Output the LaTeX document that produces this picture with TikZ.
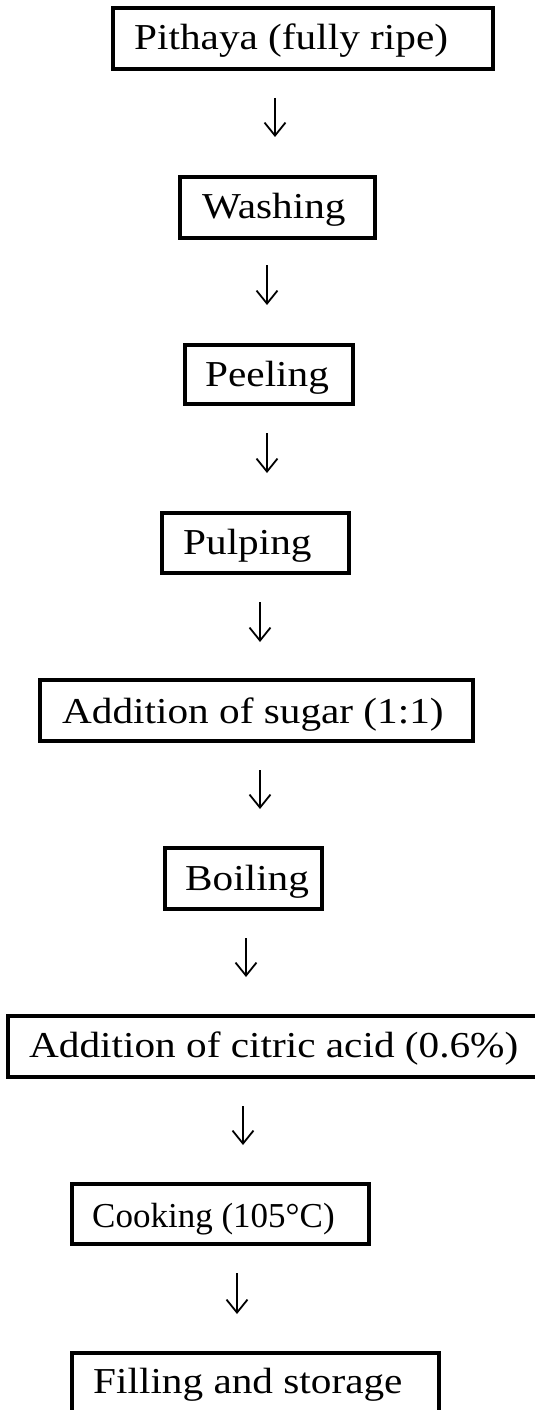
\documentclass[tikz,border=0pt]{standalone}
\usepackage{fontspec}
\usepackage{graphicx}
\setmainfont{Liberation Serif}
\usetikzlibrary{arrows.meta}
\tikzset{
  stepbox/.style={draw=black, line width=3.5pt, inner sep=0pt, fill=white},
  steptext/.style={anchor=base west, inner sep=0pt, font=\fontsize{36.5}{42}\selectfont},
  flowarrow/.style={line width=1.8pt, -{Straight Barb[length=13pt,width=21pt,line width=1.8pt]}}
}
\newcommand{\wide}[1]{\scalebox{1.13}[1]{#1}}
\begin{document}
\begin{tikzpicture}[x=1pt,y=-1pt]
\useasboundingbox (0,0) rectangle (535,1410);
\clip (0,0) rectangle (535,1410);
% boxes
\node[stepbox, minimum width=380pt, minimum height=61pt] (b1) at (303,38.5) {};
\node[stepbox, minimum width=195pt, minimum height=61pt] (b2) at (277.5,207.5) {};
\node[stepbox, minimum width=168pt, minimum height=59pt] (b3) at (269,374.5) {};
\node[stepbox, minimum width=187pt, minimum height=60pt] (b4) at (255.5,543) {};
\node[stepbox, minimum width=433pt, minimum height=61pt] (b5) at (256.5,710.5) {};
\node[stepbox, minimum width=157pt, minimum height=61pt] (b6) at (243.5,878.5) {};
\node[stepbox, minimum width=534pt, minimum height=61pt] (b7) at (275,1046.5) {};
\node[stepbox, minimum width=297pt, minimum height=60pt] (b8) at (220.5,1214) {};
\node[stepbox, minimum width=367pt, minimum height=61pt] (b9) at (255.5,1383.5) {};
% texts
\node[steptext] (t1) at (134,50) {\wide{Pithaya (fully ripe)}};
\node[steptext] (t2) at (202,218) {\wide{Washing}};
\node[steptext] (t3) at (205,386) {\wide{Peeling}};
\node[steptext] (t4) at (183,554) {\wide{Pulping}};
\node[steptext] (t5) at (62,723) {\wide{Addition of sugar (1:1)}};
\node[steptext] (t6) at (185,890) {\wide{Boiling}};
\node[steptext] (t7) at (29,1057) {\wide{Addition of citric acid (0.6\%)}};
\node[steptext, font=\fontsize{35}{40}\selectfont] (t8) at (92,1227) {Cooking (105°C)};
\node[steptext] (t9) at (93,1393) {\wide{Filling and storage}};
% arrow ends
\coordinate (a1s) at (275,98);  \coordinate (a1e) at (275,137);
\coordinate (a2s) at (267,265); \coordinate (a2e) at (267,305);
\coordinate (a3s) at (267,433); \coordinate (a3e) at (267,473);
\coordinate (a4s) at (260,602); \coordinate (a4e) at (260,642);
\coordinate (a5s) at (260,770); \coordinate (a5e) at (260,809);
\coordinate (a6s) at (246,938); \coordinate (a6e) at (246,977);
\coordinate (a7s) at (243,1106); \coordinate (a7e) at (243,1145);
\coordinate (a8s) at (237,1273); \coordinate (a8e) at (237,1314);
\foreach \i in {1,...,8} {\draw[flowarrow] (a\i s) -- (a\i e);}
\end{tikzpicture}
\end{document}
